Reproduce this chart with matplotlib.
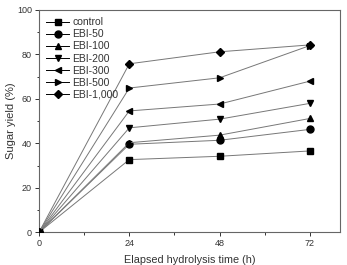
import matplotlib
matplotlib.use('Agg')
import matplotlib.pyplot as plt
from matplotlib.ticker import MultipleLocator

plt.rcParams['font.family'] = ['Liberation Sans', 'DejaVu Sans']

Time = [0, 24, 48, 72]
Labels = ['control', 'EBI-50', 'EBI-100', 'EBI-200', 'EBI-300', 'EBI-500', 'EBI-1,000']
Control = [0, 32.7, 34.2, 36.6]
Ebi50 = [0, 39.6, 41.4, 46.3]
Ebi100 = [0, 40.3, 43.7, 51.2]
Ebi200 = [0, 47.0, 50.9, 58.0]
Ebi300 = [0, 54.6, 57.7, 68.0]
Ebi500 = [0, 64.9, 69.5, 84.0]
Ebi1000 = [0, 75.8, 81.2, 84.3]

Series = [Control, Ebi50, Ebi100, Ebi200, Ebi300, Ebi500, Ebi1000]
Markers = ['s', 'o', '^', 'v', '<', '>', 'D']
Sizes = [4, 5, 5, 5, 5, 5, 4]

fig = plt.figure(figsize=(3.47, 2.65), dpi=100)
ax = fig.add_axes([39 / 347, 32.7 / 265, 301 / 347, 222.3 / 265])

for Values, Label, Marker, Size in zip(Series, Labels, Markers, Sizes):
    ax.plot(Time, Values, color='#777777', lw=0.7, marker=Marker, ms=Size,
            mfc='black', mec='black', label=Label, zorder=3)

ax.set_xlim(0, 80)
ax.set_ylim(0, 100)
ax.set_xticks(Time)
ax.xaxis.set_minor_locator(MultipleLocator(12))
ax.yaxis.set_major_locator(MultipleLocator(20))
ax.yaxis.set_minor_locator(MultipleLocator(10))
ax.tick_params(axis='both', which='major', direction='out', length=3, width=0.7,
               labelsize=6.5, colors='#333333', pad=2)
ax.tick_params(axis='both', which='minor', direction='out', length=1.8, width=0.7, colors='#333333')
ax.tick_params(top=False, right=False)
for Spine in ax.spines.values():
    Spine.set_color('#666666')
    Spine.set_linewidth(0.8)

ax.set_xlabel('Elapsed hydrolysis time (h)', fontsize=7.8, color='#333333', labelpad=5)
ax.set_ylabel('Sugar yield (%)', fontsize=8, color='#333333', labelpad=0.5)

Legend = ax.legend(loc='upper left', frameon=False, fontsize=7.5, handlelength=2.2,
                   handletextpad=0.3, labelspacing=0.2, borderaxespad=0.3,
                   bbox_to_anchor=(0.0, 1.0))
for Text in Legend.get_texts():
    Text.set_color('#333333')
for Handle in Legend.legend_handles:
    Handle.set_color('black')

fig.savefig('out.png', dpi=100)
